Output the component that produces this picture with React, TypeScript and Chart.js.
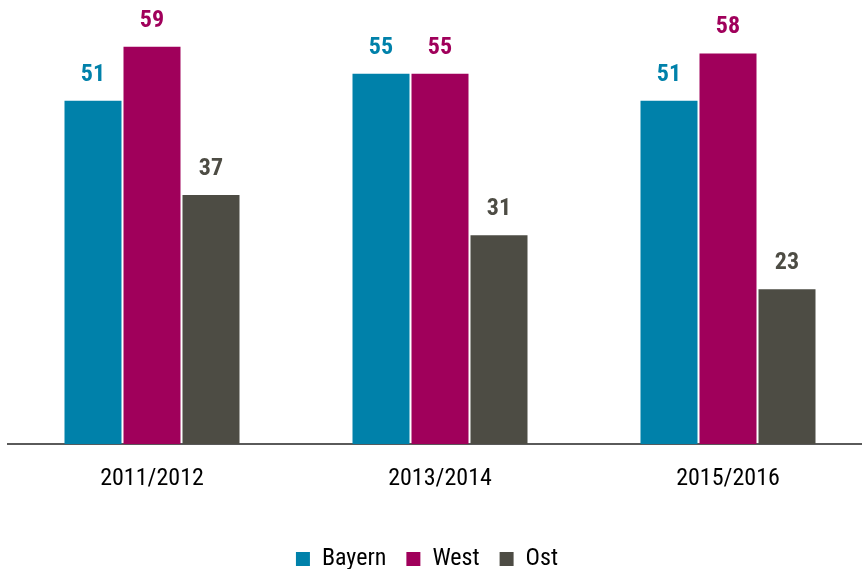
import React, { useEffect, useRef } from "react";
import { Chart, registerables } from "chart.js";

Chart.register(...registerables);

const categories = ["2011/2012", "2013/2014", "2015/2016"];
const seriesNames = ["Bayern", "West", "Ost"];
const bayern = [51, 55, 51];
const west = [59, 55, 58];
const ost = [37, 31, 23];
const colors = ["#0081AA", "#A0005B", "#4D4C44"];

const FONT = "'Roboto Condensed', 'Liberation Sans', Arial, sans-serif";

const labelPlugin = {
  id: "barLabels",
  afterLayout(chart: any) {
    if (chart.legend) {
      chart.legend.left -= 13;
      chart.legend.right -= 13;
    }
  },
  afterDatasetsDraw(chart: any) {
    const ctx = chart.ctx;
    ctx.save();
    ctx.font = `bold 24px ${FONT}`;
    ctx.textAlign = "center";
    ctx.textBaseline = "middle";
    chart.data.datasets.forEach((ds: any, i: number) => {
      const meta = chart.getDatasetMeta(i);
      meta.data.forEach((bar: any, j: number) => {
        ctx.fillStyle = ds.backgroundColor;
        ctx.fillText(String(ds.data[j]), bar.x, bar.y - 26);
      });
    });
    ctx.restore();
  },
};

export default function App() {
  const ref = useRef<HTMLCanvasElement | null>(null);
  useEffect(() => {
    if (!ref.current) return;
    const data = [bayern, west, ost];
    const chart = new Chart(ref.current, {
      type: "bar",
      data: {
        labels: categories,
        datasets: seriesNames.map((name, i) => ({
          label: name,
          data: data[i],
          backgroundColor: colors[i],
          borderWidth: 0,
          barPercentage: 57 / 59,
          categoryPercentage: 177 / 288,
        })),
      },
      options: {
        responsive: false,
        animation: false,
        layout: { padding: { left: 8, right: 8, top: 40, bottom: 0 } },
        plugins: {
          legend: {
            position: "bottom",
            labels: {
              boxWidth: 14,
              boxHeight: 14,
              padding: 20,
              color: "#000",
              font: { family: FONT, size: 24 },
            },
          },
          tooltip: { enabled: false },
        },
        scales: {
          x: {
            grid: { display: false },
            border: { display: true, color: "#5a5a5a", width: 2 },
            ticks: {
              color: "#000",
              padding: 12,
              font: { family: FONT, size: 24 },
            },
            afterFit: (scale: any) => {
              scale.height += 22;
            },
          },
          y: {
            display: false,
            min: 0,
            max: 60,
          },
        },
      },
      plugins: [labelPlugin],
    });
    return () => chart.destroy();
  }, []);
  return (
    <div style={{ position: "fixed", left: 0, top: 0, width: 862, height: 569, overflow: "hidden", background: "#fff" }}>
      <canvas ref={ref} width={880} height={581} style={{ position: "absolute", left: 0, top: 0 }} />
    </div>
  );
}
